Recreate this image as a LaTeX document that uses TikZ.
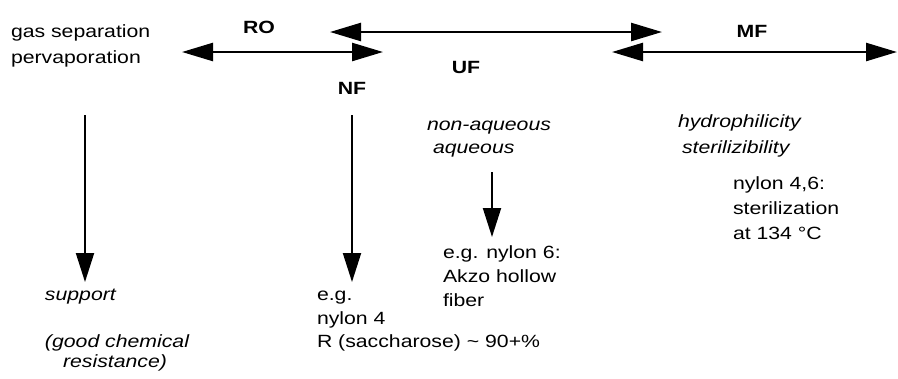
\documentclass[tikz,border=0pt]{standalone}
\usepackage{fontspec}
\setmainfont[FakeStretch=1.2]{Liberation Sans}
\usetikzlibrary{arrows.meta}
\tikzset{
  txt/.style={inner sep=0pt, outer sep=0pt, anchor=base west, font=\fontsize{17.7}{21}\selectfont},
  itxt/.style={txt, font=\fontsize{17.7}{21}\selectfont\itshape},
  lbl/.style={inner sep=0pt, outer sep=0pt, anchor=base, font=\fontsize{17.7}{21}\selectfont\bfseries},
  darrow/.style={line width=2.5pt, {Triangle[length=31pt,width=18pt]}-{Triangle[length=31pt,width=18pt]}},
  sarrow/.style={line width=2pt, -{Triangle[length=29pt,width=18pt]}}
}
\begin{document}
\begin{tikzpicture}[x=1pt,y=-1pt]
\useasboundingbox (0,0) rectangle (898,378);
% left texts
\node[txt] (gs) at (11,37) {gas separation};
\node[txt] (pv) at (11,63) {pervaporation};
% labels
\node[lbl] (RO) at (259,33) {RO};
\node[lbl] (NF) at (352,94) {NF};
\node[lbl] (UF) at (466,73) {UF};
\node[lbl] (MF) at (752,37) {MF};
% horizontal arrows
\coordinate (roL) at (182,52);
\coordinate (roR) at (383,52);
\coordinate (ufL) at (330,32);
\coordinate (ufR) at (662,32);
\coordinate (mfL) at (612,52);
\coordinate (mfR) at (897,52);
\draw[darrow] (roL) -- (roR);
\draw[darrow] (ufL) -- (ufR);
\draw[darrow] (mfL) -- (mfR);
% support column
\node[itxt] (sup1) at (45,300) {support};
\node[itxt] (gcr) at (45,347) {(good chemical};
\node[itxt, anchor=base] (res) at (115,367) {resistance)};
\coordinate (a1s) at (85,115);
\coordinate (a1e) at (85,282);
\draw[sarrow] (a1s) -- (a1e);
% NF column
\node[txt] (eg1) at (317,300) {e.g.};
\node[txt] (ny4) at (317,324) {nylon 4};
\node[txt] (sac) at (317,347) {R (saccharose) \textasciitilde{} 90+\%};
\coordinate (a2s) at (352,115);
\coordinate (a2e) at (352,282);
\draw[sarrow] (a2s) -- (a2e);
% UF column
\node[itxt] (naq) at (427,130) {non-aqueous};
\node[itxt] (aq) at (433,153) {aqueous};
\coordinate (a3s) at (492,172);
\coordinate (a3e) at (492,237);
\draw[sarrow] (a3s) -- (a3e);
\node[txt] (eg6) at (443,258) {e.g. nylon 6:};
\node[txt] (akzo) at (443,282) {Akzo hollow};
\node[txt] (fib) at (443,306) {fiber};
% MF column
\node[itxt] (hyd) at (678,127) {hydrophilicity};
\node[itxt] (ster) at (682,153) {sterilizibility};
\node[txt] (n46) at (733,189) {nylon 4,6:};
\node[txt] (stz) at (733,214) {sterilization};
\node[txt] (at134) at (733,239) {at 134 °C};
\end{tikzpicture}
\end{document}
